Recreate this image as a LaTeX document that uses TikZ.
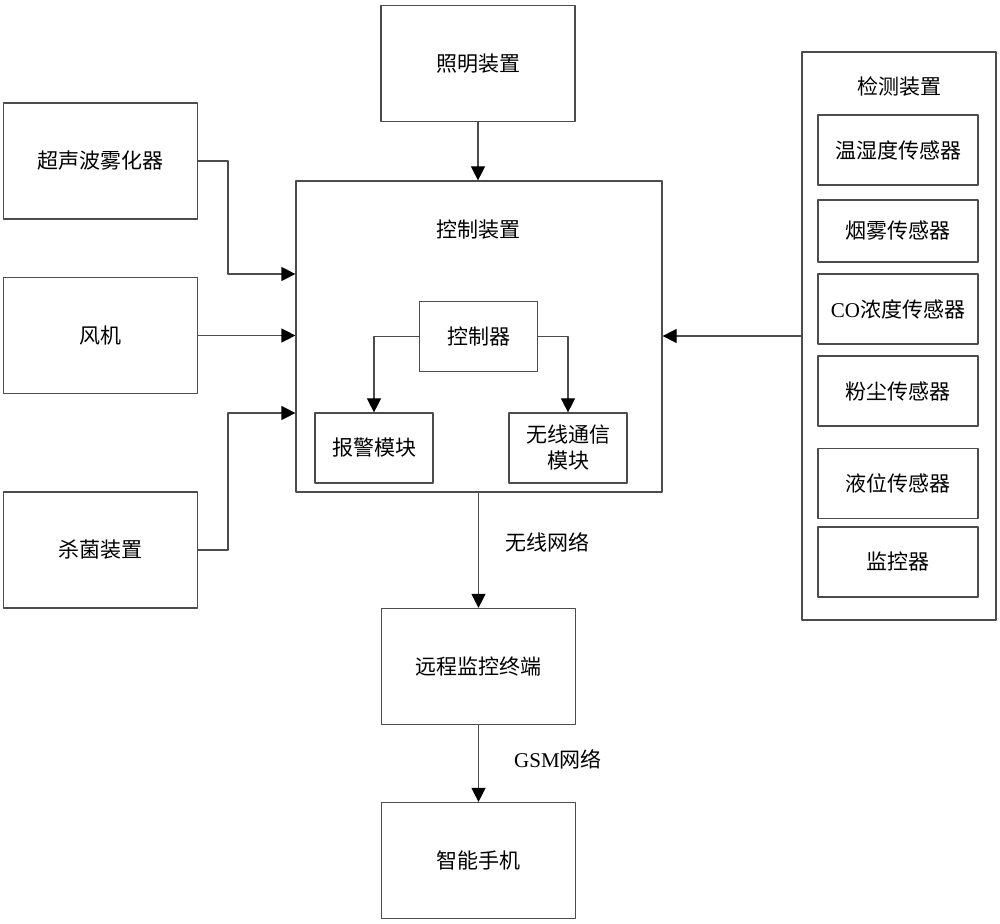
\documentclass[tikz,border=0pt]{standalone}
\usepackage{fontspec}
\setmainfont{Liberation Serif}
\newfontfamily\cjk{Noto Sans CJK SC}
\usetikzlibrary{arrows.meta}
\tikzset{
  box/.style={draw=black!70, line width=0.6pt, inner sep=0pt, align=center},
  big/.style={box, minimum width=97pt, minimum height=58pt},
  sensor/.style={box, minimum width=80pt, minimum height=35pt},
  small/.style={box, minimum width=59pt, minimum height=35pt},
  arr/.style={draw=black!70, line width=0.6pt, -{Triangle[length=7pt,width=7pt,color=black]}},
  line/.style={draw=black!70, line width=0.6pt}
}
\begin{document}
\begin{tikzpicture}[x=0.5pt,y=-0.5pt,font=\cjk\fontsize{10.5}{13}\selectfont,line join=round]
	\useasboundingbox (0,0) rectangle (1000,924);
	% middle column
	\node[big] (zm) at (478,63.5) {照明装置};
	\node[box, minimum width=183pt, minimum height=155.5pt] (kz) at (479,336.5) {};
	\node (kzlabel) at (478,230) {控制装置};
	\node[small] (kzq) at (478.5,336.5) {控制器};
	\node[small] (bj) at (374,448) {报警模块};
	\node[small] (wx) at (568,448) {无线通信\\模块};
	\node[big] (yc) at (478.5,666.5) {远程监控终端};
	\node[big] (zn) at (478.5,860.5) {智能手机};
	% left column
	\node[big] (csb) at (100.5,161) {超声波雾化器};
	\node[big] (fj) at (100.5,335.5) {风机};
	\node[big] (sj) at (100.5,550) {杀菌装置};
	% right column
	\node[box, minimum width=97pt, minimum height=284pt] (jc) at (899,336) {};
	\node (jclabel) at (899,87) {检测装置};
	\node[sensor] (wsd) at (898,150) {温湿度传感器};
	\node[sensor, minimum height=31pt] (yw) at (898,231) {烟雾传感器};
	\node[sensor] (co) at (898,309) {{\rmfamily CO}浓度传感器};
	\node[sensor] (fc) at (898,391) {粉尘传感器};
	\node[sensor] (yy) at (898,483.5) {液位传感器};
	\node[sensor] (jk) at (898,562) {监控器};
	% connectors
	\coordinate (c1) at (228,274);
	\coordinate (c2) at (228,413);
	\draw[arr] (zm.south) -- (zm.south |- kz.north);
	\draw[arr] (csb.east) -| (c1) -- (c1 -| kz.west);
	\draw[arr] (fj.east) -- (fj.east -| kz.west);
	\draw[arr] (sj.east) -| (c2) -- (c2 -| kz.west);
	\draw[arr] (jc.west) -- (jc.west -| kz.east);
	\draw[arr] (kzq.west) -| (bj.north);
	\draw[arr] (kzq.east) -| (wx.north);
	\draw[arr] (kz.south -| yc.north) -- (yc.north);
	\draw[arr] (yc.south) -- (zn.north);
	\node (lwx) at (547,542) {无线网络};
	\node (lgsm) at (558,759) {{\rmfamily GSM}网络};
\end{tikzpicture}
\end{document}
